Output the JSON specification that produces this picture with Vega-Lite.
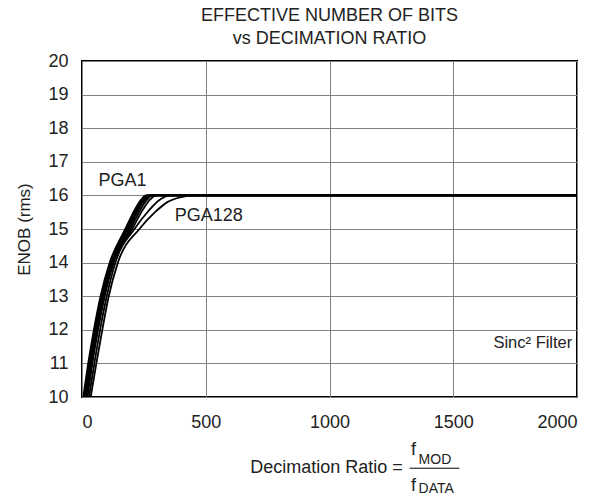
{
  "$schema": "https://vega.github.io/schema/vega-lite/v6.json",
  "width": 495,
  "height": 336,
  "padding": {"left": 15, "top": 7, "right": 17, "bottom": 0},
  "background": "white",
  "config": {
    "font": "Liberation Sans",
    "view": {"stroke": "black", "strokeWidth": 2},
    "axis": {
      "grid": true,
      "gridColor": "#808080",
      "gridWidth": 1,
      "gridOpacity": 1,
      "domain": false,
      "ticks": false,
      "labelFont": "Liberation Sans",
      "labelFontSize": 18,
      "labelColor": "#222222",
      "labelPadding": 14,
      "labelOverlap": false,
      "labelBound": false,
      "titleFont": "Liberation Sans",
      "titleFontWeight": "normal",
      "titleColor": "#222222",
      "titleFontSize": 17
    }
  },
  "title": {
    "text": ["EFFECTIVE NUMBER OF BITS", "vs DECIMATION RATIO"],
    "fontSize": 18,
    "fontWeight": "normal",
    "font": "Liberation Sans",
    "color": "#222222",
    "lineHeight": 23,
    "offset": 4
  },
  "datasets": {
    "curves": [
      {"pga": "PGA1", "ratio": 5, "enob": 10}, {"pga": "PGA1", "ratio": 25, "enob": 11}, {"pga": "PGA1", "ratio": 48, "enob": 12}, {"pga": "PGA1", "ratio": 75, "enob": 13}, {"pga": "PGA1", "ratio": 112, "enob": 14}, {"pga": "PGA1", "ratio": 175, "enob": 15}, {"pga": "PGA1", "ratio": 215, "enob": 15.6}, {"pga": "PGA1", "ratio": 240, "enob": 15.88}, {"pga": "PGA1", "ratio": 258, "enob": 16}, {"pga": "PGA1", "ratio": 2000, "enob": 16},
      {"pga": "PGA2", "ratio": 8, "enob": 10}, {"pga": "PGA2", "ratio": 28, "enob": 11}, {"pga": "PGA2", "ratio": 51, "enob": 12}, {"pga": "PGA2", "ratio": 78, "enob": 13}, {"pga": "PGA2", "ratio": 116, "enob": 14}, {"pga": "PGA2", "ratio": 180, "enob": 15}, {"pga": "PGA2", "ratio": 220, "enob": 15.6}, {"pga": "PGA2", "ratio": 245, "enob": 15.88}, {"pga": "PGA2", "ratio": 263, "enob": 16}, {"pga": "PGA2", "ratio": 2000, "enob": 16},
      {"pga": "PGA4", "ratio": 11, "enob": 10}, {"pga": "PGA4", "ratio": 31, "enob": 11}, {"pga": "PGA4", "ratio": 54, "enob": 12}, {"pga": "PGA4", "ratio": 81, "enob": 13}, {"pga": "PGA4", "ratio": 119, "enob": 14}, {"pga": "PGA4", "ratio": 185, "enob": 15}, {"pga": "PGA4", "ratio": 225, "enob": 15.6}, {"pga": "PGA4", "ratio": 250, "enob": 15.88}, {"pga": "PGA4", "ratio": 268, "enob": 16}, {"pga": "PGA4", "ratio": 2000, "enob": 16},
      {"pga": "PGA8", "ratio": 14, "enob": 10}, {"pga": "PGA8", "ratio": 34, "enob": 11}, {"pga": "PGA8", "ratio": 57, "enob": 12}, {"pga": "PGA8", "ratio": 84, "enob": 13}, {"pga": "PGA8", "ratio": 122, "enob": 14}, {"pga": "PGA8", "ratio": 190, "enob": 15}, {"pga": "PGA8", "ratio": 230, "enob": 15.6}, {"pga": "PGA8", "ratio": 256, "enob": 15.88}, {"pga": "PGA8", "ratio": 275, "enob": 16}, {"pga": "PGA8", "ratio": 2000, "enob": 16},
      {"pga": "PGA16", "ratio": 18, "enob": 10}, {"pga": "PGA16", "ratio": 38, "enob": 11}, {"pga": "PGA16", "ratio": 61, "enob": 12}, {"pga": "PGA16", "ratio": 88, "enob": 13}, {"pga": "PGA16", "ratio": 125, "enob": 14}, {"pga": "PGA16", "ratio": 196, "enob": 15}, {"pga": "PGA16", "ratio": 238, "enob": 15.6}, {"pga": "PGA16", "ratio": 264, "enob": 15.88}, {"pga": "PGA16", "ratio": 285, "enob": 16}, {"pga": "PGA16", "ratio": 2000, "enob": 16},
      {"pga": "PGA32", "ratio": 22, "enob": 10}, {"pga": "PGA32", "ratio": 42, "enob": 11}, {"pga": "PGA32", "ratio": 65, "enob": 12}, {"pga": "PGA32", "ratio": 92, "enob": 13}, {"pga": "PGA32", "ratio": 128, "enob": 14}, {"pga": "PGA32", "ratio": 203, "enob": 15}, {"pga": "PGA32", "ratio": 248, "enob": 15.6}, {"pga": "PGA32", "ratio": 276, "enob": 15.88}, {"pga": "PGA32", "ratio": 300, "enob": 16}, {"pga": "PGA32", "ratio": 2000, "enob": 16},
      {"pga": "PGA64", "ratio": 28, "enob": 10}, {"pga": "PGA64", "ratio": 50, "enob": 11}, {"pga": "PGA64", "ratio": 73, "enob": 12}, {"pga": "PGA64", "ratio": 100, "enob": 13}, {"pga": "PGA64", "ratio": 135, "enob": 14}, {"pga": "PGA64", "ratio": 212, "enob": 15}, {"pga": "PGA64", "ratio": 270, "enob": 15.55}, {"pga": "PGA64", "ratio": 310, "enob": 15.85}, {"pga": "PGA64", "ratio": 360, "enob": 16}, {"pga": "PGA64", "ratio": 2000, "enob": 16},
      {"pga": "PGA128", "ratio": 35, "enob": 10}, {"pga": "PGA128", "ratio": 58, "enob": 11}, {"pga": "PGA128", "ratio": 82, "enob": 12}, {"pga": "PGA128", "ratio": 108, "enob": 13}, {"pga": "PGA128", "ratio": 145, "enob": 14}, {"pga": "PGA128", "ratio": 232, "enob": 15}, {"pga": "PGA128", "ratio": 295, "enob": 15.5}, {"pga": "PGA128", "ratio": 345, "enob": 15.8}, {"pga": "PGA128", "ratio": 400, "enob": 15.95}, {"pga": "PGA128", "ratio": 450, "enob": 16}, {"pga": "PGA128", "ratio": 2000, "enob": 16}
    ],
    "labels": [
      {"ratio": 67, "enob": 16.44, "label": "PGA1"},
      {"ratio": 375, "enob": 15.4, "label": "PGA128"}
    ],
    "filter": [
      {"ratio": 1981, "enob": 11.61, "label": "Sinc² Filter"}
    ],
    "xmain": [
      {"ratio": 680, "enob": 7.88, "label": "Decimation Ratio ="},
      {"ratio": 1329, "enob": 8.41, "label": "f"},
      {"ratio": 1329, "enob": 7.36, "label": "f"}
    ],
    "xsub": [
      {"ratio": 1360, "enob": 8.12, "label": "MOD"},
      {"ratio": 1360, "enob": 7.26, "label": "DATA"}
    ],
    "bar": [
      {"ratio": 1324, "ratio2": 1525, "enob": 7.88}
    ]
  },
  "encoding": {
    "x": {"field": "ratio", "type": "quantitative", "scale": {"domain": [0, 2000], "nice": false}, "axis": {"tickCount": 4, "format": "d", "title": null, "labelPadding": 16}},
    "y": {"field": "enob", "type": "quantitative", "scale": {"domain": [10, 20], "nice": false}, "axis": {"tickCount": 10, "title": "ENOB (rms)", "titlePadding": 14}}
  },
  "layer": [
    {
      "data": {"name": "curves"},
      "mark": {"type": "line", "color": "black", "strokeWidth": 1.8, "interpolate": "monotone"},
      "encoding": {
        "detail": {"field": "pga", "type": "nominal"}
      }
    },
    {
      "data": {"name": "labels"},
      "mark": {"type": "text", "align": "left", "baseline": "middle", "fontSize": 18, "color": "#222222"},
      "encoding": {"text": {"field": "label"}}
    },
    {
      "data": {"name": "filter"},
      "mark": {"type": "text", "align": "right", "baseline": "middle", "fontSize": 16.5, "color": "#222222"},
      "encoding": {"text": {"field": "label"}}
    },
    {
      "data": {"name": "xmain"},
      "mark": {"type": "text", "align": "left", "baseline": "middle", "fontSize": 18, "color": "#222222"},
      "encoding": {"text": {"field": "label"}}
    },
    {
      "data": {"name": "xsub"},
      "mark": {"type": "text", "align": "left", "baseline": "middle", "fontSize": 14, "color": "#222222"},
      "encoding": {"text": {"field": "label"}}
    },
    {
      "data": {"name": "bar"},
      "mark": {"type": "rule", "color": "black", "strokeWidth": 1},
      "encoding": {"x2": {"field": "ratio2"}}
    }
  ]
}
